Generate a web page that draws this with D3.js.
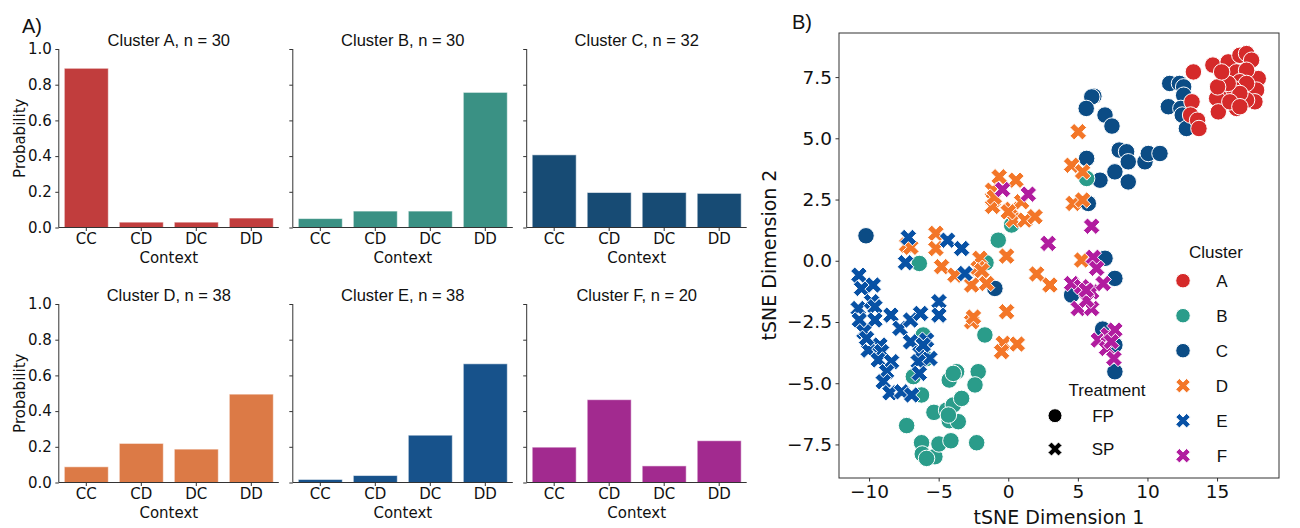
<!DOCTYPE html>
<html><head><meta charset="utf-8">
<script src="https://cdn.jsdelivr.net/npm/d3@7"></script>
<style>body{margin:0;background:#fff;}svg{display:block;}</style>
</head><body>
<svg id="chart" width="1300" height="528"></svg>
<script>
// ---------- DATA ----------
const contexts = ["CC","CD","DC","DD"];
const clusterNames = ["A","B","C","D","E","F"];
const clusterSizes = [30,30,32,38,38,20];
const probA = [0.892,0.030,0.030,0.053];
const probB = [0.050,0.092,0.092,0.757];
const probC = [0.407,0.196,0.196,0.191];
const probD = [0.088,0.219,0.187,0.495];
const probE = [0.017,0.039,0.265,0.665];
const probF = [0.198,0.464,0.093,0.234];
const probTicks = [0,0.2,0.4,0.6,0.8,1.0];

const barColors = ["#c13d3d","#3a9184","#174b74","#dc7a46","#17528b","#a22a8f"];
const dotColors = ["#d52a2a","#2a9c8a","#0b4c85","#f37628","#0751a5","#b11c9f"];
const treatmentOf = ["FP","FP","FP","SP","SP","SP"];

const tsneXTicks = [-10,-5,0,5,10,15];
const tsneYTicks = [-7.5,-5,-2.5,0,2.5,5,7.5];

const ptsA = [[13.3,7.71],[14.7,7.99],[15.80,8.12],[16.64,8.39],[17.12,8.46],[17.48,8.19],[17.96,7.44],[17.84,6.97],[17.72,6.49],[17.12,6.56],[16.40,6.22],[15.57,6.69],[14.97,6.63],[15.09,6.08],[13.2,6.49],[13.1,5.95],[13.6,5.74],[13.7,5.40],[15.68,7.58],[16.40,7.71],[17.12,7.78],[16.64,7.31],[17.12,7.24],[16.16,7.03],[16.64,6.83],[15.80,7.24],[15.04,7.10],[15.92,6.49],[16.64,6.29],[15.33,7.71]];
const ptsB = [[-6.39,-0.11],[-1.60,-0.08],[-1.68,-3.03],[-6.11,-3.03],[-6.82,-4.73],[-6.23,-5.48],[-7.30,-6.73],[-5.34,-6.19],[-4.43,-6.10],[-4.24,-6.53],[-3.59,-6.57],[-3.95,-5.89],[-3.35,-5.62],[-4.24,-4.87],[-3.71,-4.53],[-3.95,-4.60],[-2.16,-4.53],[-2.39,-5.07],[-6.23,-7.43],[-6.18,-7.89],[-5.27,-8.00],[-4.98,-7.48],[-4.12,-7.35],[-2.27,-7.43],[-5.87,-8.07],[5.63,3.36],[-0.72,0.84],[0.24,1.46],[-4.3,-6.3],[-5.9,-4.0]];
const ptsC = [[11.6,7.24],[12.3,7.24],[12.6,7.10],[12.6,6.76],[11.5,6.29],[12.4,6.22],[12.5,5.95],[12.8,5.40],[6.15,6.72],[6.0,6.69],[5.6,6.22],[6.95,5.95],[7.45,5.50],[5.63,4.18],[6.59,3.29],[7.66,3.63],[7.97,4.52],[8.50,4.45],[8.62,4.04],[8.62,3.22],[9.82,4.04],[10.06,4.38],[10.90,4.38],[5.75,2.34],[6.95,0.10],[7.66,-0.72],[4.55,-1.40],[6.78,-2.79],[7.66,-3.44],[7.66,-4.53],[-10.22,1.02],[-0.96,-1.13]];
const ptsD = [[5.03,5.27],[4.55,3.90],[5.34,3.63],[4.67,2.34],[5.34,2.48],[-0.65,3.43],[0.55,3.29],[-1.13,2.88],[-1.08,2.48],[-1.13,2.22],[0.24,2.10],[0.96,2.41],[0.36,1.66],[1.20,1.66],[1.92,1.80],[-0.12,0.19],[-2.04,0.10],[-5.20,1.12],[-5.20,0.50],[-7.30,0.64],[-7.0,0.55],[5.27,0.03],[-4.79,-0.24],[-3.83,-0.59],[-2.63,-0.99],[-2.16,-0.31],[-1.56,-0.93],[2.04,-0.54],[2.99,-0.99],[-0.12,-2.08],[-2.63,-2.49],[-0.36,-3.37],[-0.48,-3.71],[0.65,-3.40],[-2.5,-2.3],[0.0,2.0],[-1.0,2.6],[-1.9,-0.4]];
const ptsE = [[-7.18,0.95],[-4.36,0.84],[-3.35,0.50],[-7.38,-0.08],[-3.11,-0.52],[-10.73,-0.59],[-10.54,-1.13],[-9.70,-0.99],[-10.78,-1.95],[-9.82,-1.67],[-9.58,-1.88],[-10.70,-2.42],[-9.58,-2.42],[-10.37,-2.90],[-8.43,-2.22],[-7.78,-2.76],[-7.02,-2.42],[-6.30,-2.15],[-4.98,-1.67],[-4.98,-2.22],[-10.06,-3.65],[-9.22,-3.44],[-9.10,-3.71],[-9.34,-4.05],[-8.38,-4.12],[-8.74,-4.53],[-8.98,-4.94],[-8.50,-5.39],[-7.66,-5.35],[-6.94,-5.48],[-7.02,-3.31],[-5.87,-3.24],[-6.35,-3.78],[-5.63,-3.99],[-6.47,-4.12],[-6.39,-4.60],[-6.11,-3.44],[-10.18,-3.17]];
const ptsF = [[-0.41,2.91],[1.44,2.72],[5.99,1.41],[2.87,0.71],[6.11,0.14],[6.35,-0.31],[4.55,-0.93],[5.27,-1.06],[5.99,-1.27],[6.82,-0.93],[5.03,-1.95],[5.99,-1.95],[5.63,-1.61],[6.47,-3.24],[7.18,-3.03],[7.06,-3.58],[7.59,-3.99],[7.66,-2.83],[7.4,-3.3],[5.6,-1.2]];

// ---------- DRAW ----------
const svg = d3.select("#chart");
const tickFont = "DejaVu Sans, sans-serif";
const arialFont = "Liberation Sans, Arial, sans-serif";
const spineColor = "#333";

const probs = [probA,probB,probC,probD,probE,probF];
const panelLefts = [58.8, 292.8, 526.7];
const panelTops = [49, 304];
const panelW = 220, panelH = 178.5;

probs.forEach((vals, i) => {
  const col = i % 3, row = Math.floor(i / 3);
  const L = panelLefts[col], T = panelTops[row], B = T + panelH;
  const x = d3.scaleBand().domain(contexts).range([L, L + panelW]).paddingInner(0.2).paddingOuter(0.1);
  const y = d3.scaleLinear().domain([0, 1]).range([B, T]);
  const g = svg.append("g");
  g.selectAll("rect").data(contexts).join("rect")
    .attr("x", d => x(d)).attr("width", x.bandwidth())
    .attr("y", (d, j) => y(vals[j])).attr("height", (d, j) => y(0) - y(vals[j]))
    .attr("fill", barColors[i]).attr("stroke", "rgba(255,255,255,0.55)").attr("stroke-width", 1);
  const ya = d3.axisLeft(y).tickValues(probTicks).tickSize(3.5).tickPadding(3.5)
    .tickFormat(col === 0 ? d3.format(".1f") : () => "");
  const yg = g.append("g").attr("transform", `translate(${L},0)`).call(ya);
  const xa = d3.axisBottom(x).tickSize(3.5).tickPadding(2);
  const xg = g.append("g").attr("transform", `translate(0,${B})`).call(xa);
  [yg, xg].forEach(a => {
    a.select(".domain").attr("stroke", spineColor).attr("stroke-width", 1);
    a.selectAll(".tick line").attr("stroke", spineColor);
    a.selectAll("text").attr("font-family", tickFont).attr("font-size", 15).attr("fill", "#111");
  });
  yg.select(".domain").attr("d", `M-0.0,${B}V${T}`);
  xg.select(".domain").attr("d", `M${L},0H${L + panelW}`);
  g.append("text").attr("x", L + panelW / 2).attr("y", B + 35.5).attr("text-anchor", "middle")
    .attr("font-family", tickFont).attr("font-size", 15).attr("fill", "#111").text("Context");
  g.append("text").attr("x", L + panelW / 2).attr("y", T - 3).attr("text-anchor", "middle")
    .attr("font-family", arialFont).attr("font-size", 16.5).attr("fill", "#111")
    .text(`Cluster ${clusterNames[i]}, n = ${clusterSizes[i]}`);
  if (col === 0) {
    g.append("text").attr("transform", `translate(25,${(T + B) / 2}) rotate(-90)`)
      .attr("text-anchor", "middle").attr("font-family", tickFont).attr("font-size", 15)
      .attr("fill", "#111").text("Probability");
  }
});

svg.append("text").attr("x", 22).attr("y", 33).attr("font-family", arialFont).attr("font-size", 20).attr("fill", "#111").text("A)");
svg.append("text").attr("x", 792).attr("y", 29).attr("font-family", arialFont).attr("font-size", 20).attr("fill", "#111").text("B)");

// scatter
const sx = d3.scaleLinear().domain([-12.16, 19.45]).range([839, 1279]);
const sy = d3.scaleLinear().domain([-8.87, 9.30]).range([478, 33]);
const sg = svg.append("g");
sg.append("rect").attr("x", 839).attr("y", 33).attr("width", 440).attr("height", 445)
  .attr("fill", "none").attr("stroke", spineColor).attr("stroke-width", 1);
const xax = sg.append("g").attr("transform", "translate(0,478)")
  .call(d3.axisBottom(sx).tickValues(tsneXTicks).tickSize(3.5).tickPadding(3.5).tickFormat(d => d3.format("d")(d).replace("-", "\u2212")));
const yax = sg.append("g").attr("transform", "translate(839,0)")
  .call(d3.axisLeft(sy).tickValues(tsneYTicks).tickSize(3.5).tickPadding(3.5).tickFormat(d => d3.format(".1f")(d).replace("-", "\u2212")));
[xax, yax].forEach(a => {
  a.select(".domain").remove();
  a.selectAll(".tick line").attr("stroke", spineColor);
  a.selectAll("text").attr("font-family", tickFont).attr("font-size", 18.5).attr("fill", "#111");
});
sg.append("text").attr("x", 1059).attr("y", 524).attr("text-anchor", "middle")
  .attr("font-family", tickFont).attr("font-size", 19).attr("fill", "#111").text("tSNE Dimension 1");
sg.append("text").attr("transform", `translate(776,255) rotate(-90)`).attr("text-anchor", "middle")
  .attr("font-family", tickFont).attr("font-size", 19).attr("fill", "#111").text("tSNE Dimension 2");

// marker shapes
const xVerts = [[-0.25,-0.5],[0,-0.25],[0.25,-0.5],[0.5,-0.25],[0.25,0],[0.5,0.25],[0.25,0.5],[0,0.25],[-0.25,0.5],[-0.5,0.25],[-0.25,0],[-0.5,-0.25]];
function xPath(size) { return "M" + xVerts.map(v => [v[0]*size, v[1]*size].join(",")).join("L") + "Z"; }
function drawMarker(sel, kind, size, fill, stroke) {
  if (kind === "FP") {
    sel.append("circle").attr("r", size / 2).attr("fill", fill).attr("stroke", stroke).attr("stroke-width", 1);
  } else {
    sel.append("path").attr("d", xPath(size)).attr("fill", fill).attr("stroke", stroke).attr("stroke-width", 1);
  }
}

const allPts = [ptsA, ptsB, ptsC, ptsD, ptsE, ptsF];
const drawOrder = [2, 1, 0, 3, 4, 5];
const pg = sg.append("g");
drawOrder.forEach(ci => {
  allPts[ci].forEach(p => {
    const m = pg.append("g").attr("transform", `translate(${sx(p[0])},${sy(p[1])})`);
    drawMarker(m, treatmentOf[ci], 16.5, dotColors[ci], "#fff");
  });
});

// legends
const lg = svg.append("g");
lg.append("text").attr("x", 1216).attr("y", 258).attr("text-anchor", "middle")
  .attr("font-family", arialFont).attr("font-size", 17).attr("fill", "#111").text("Cluster");
clusterNames.forEach((c, i) => {
  const yy = 280.7 + i * 35;
  const m = lg.append("g").attr("transform", `translate(1183,${yy})`);
  drawMarker(m, treatmentOf[i], 14.5, dotColors[i], "#fff");
  lg.append("text").attr("x", 1222).attr("y", yy + 6).attr("text-anchor", "middle")
    .attr("font-family", arialFont).attr("font-size", 17).attr("fill", "#111").text(c);
});
const treatments = ["FP","SP"];
lg.append("text").attr("x", 1107).attr("y", 396).attr("text-anchor", "middle")
  .attr("font-family", arialFont).attr("font-size", 17).attr("fill", "#111").text("Treatment");
treatments.forEach((t, i) => {
  const yy = 415.7 + i * 33.3;
  const m = lg.append("g").attr("transform", `translate(1055,${yy})`);
  drawMarker(m, t, 14, "#000", "#fff");
  lg.append("text").attr("x", 1103).attr("y", yy + 6).attr("text-anchor", "middle")
    .attr("font-family", arialFont).attr("font-size", 17).attr("fill", "#111").text(t);
});
</script>
</body></html>
